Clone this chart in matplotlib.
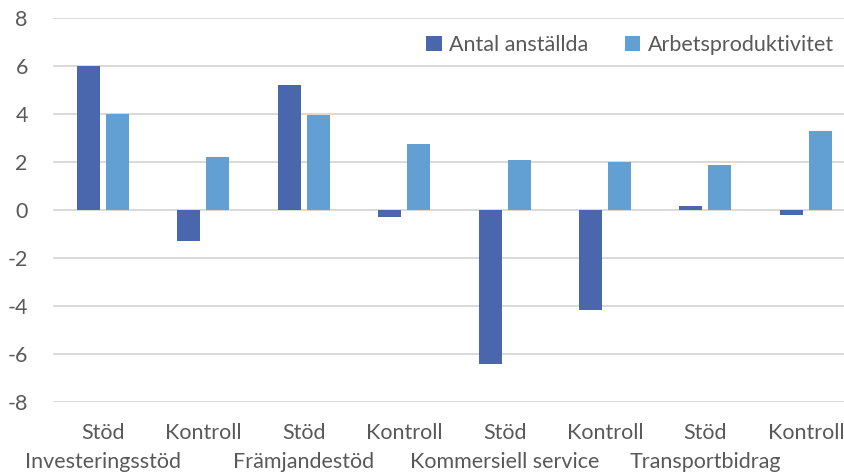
import matplotlib
matplotlib.use("Agg")
import matplotlib.pyplot as plt
import numpy as np

categories = ["Stöd", "Kontroll", "Stöd", "Kontroll", "Stöd", "Kontroll", "Stöd", "Kontroll"]
groups = ["Investeringsstöd", "Främjandestöd", "Kommersiell service", "Transportbidrag"]
antal_anstallda = [6.0, -1.3, 5.2, -0.28, -6.42, -4.17, 0.17, -0.2]
arbetsproduktivitet = [4.0, 2.2, 3.96, 2.75, 2.08, 2.0, 1.88, 3.3]
series_names = ["Antal anställda", "Arbetsproduktivitet"]
yticks = [-8, -6, -4, -2, 0, 2, 4, 6, 8]

plt.rcParams['font.family'] = ['Lato', 'DejaVu Sans']
text_color = "#595959"
dark = "#4A66AC"
light = "#629FD3"
fs = 15.5

fig = plt.figure(figsize=(8.45, 4.73), dpi=100)
ax = fig.add_axes([0.0625, 1 - 402 / 473, 1 - 0.0625, (402 - 18.3) / 473])

x = np.arange(len(categories))
w = 0.229
off = 0.144
ax.bar(x - off, antal_anstallda, w, color=dark, label=series_names[0], zorder=3)
ax.bar(x + off, arbetsproduktivitet, w, color=light, label=series_names[1], zorder=3)

ax.set_ylim(-8, 8)
ax.set_xlim(-0.5, 7.39)
ax.set_yticks(yticks)
ax.set_yticklabels([str(v) for v in yticks])
ax.grid(axis='y', color="#d9d9d9", linewidth=1.4, zorder=0)
for s in ax.spines.values():
    s.set_visible(False)
ax.tick_params(axis='y', length=0, pad=18, labelsize=fs, labelcolor=text_color)
ax.tick_params(axis='x', length=0, pad=15, labelsize=fs, labelcolor=text_color)
ax.set_xticks(x)
ax.set_xticklabels(categories)

for i, g in enumerate(groups):
    ax.text(2 * i, -60 / 383.7, g, transform=ax.get_xaxis_transform(), ha='center', va='center',
            fontsize=fs, color=text_color)

leg = ax.legend(loc='upper right', bbox_to_anchor=(1.002, 0.99), ncol=2, frameon=False,
                fontsize=fs, labelcolor=text_color, handlelength=0.7, handleheight=0.7,
                handletextpad=0.35, columnspacing=1.7, borderaxespad=0.2)

fig.savefig("out.png", dpi=100)
